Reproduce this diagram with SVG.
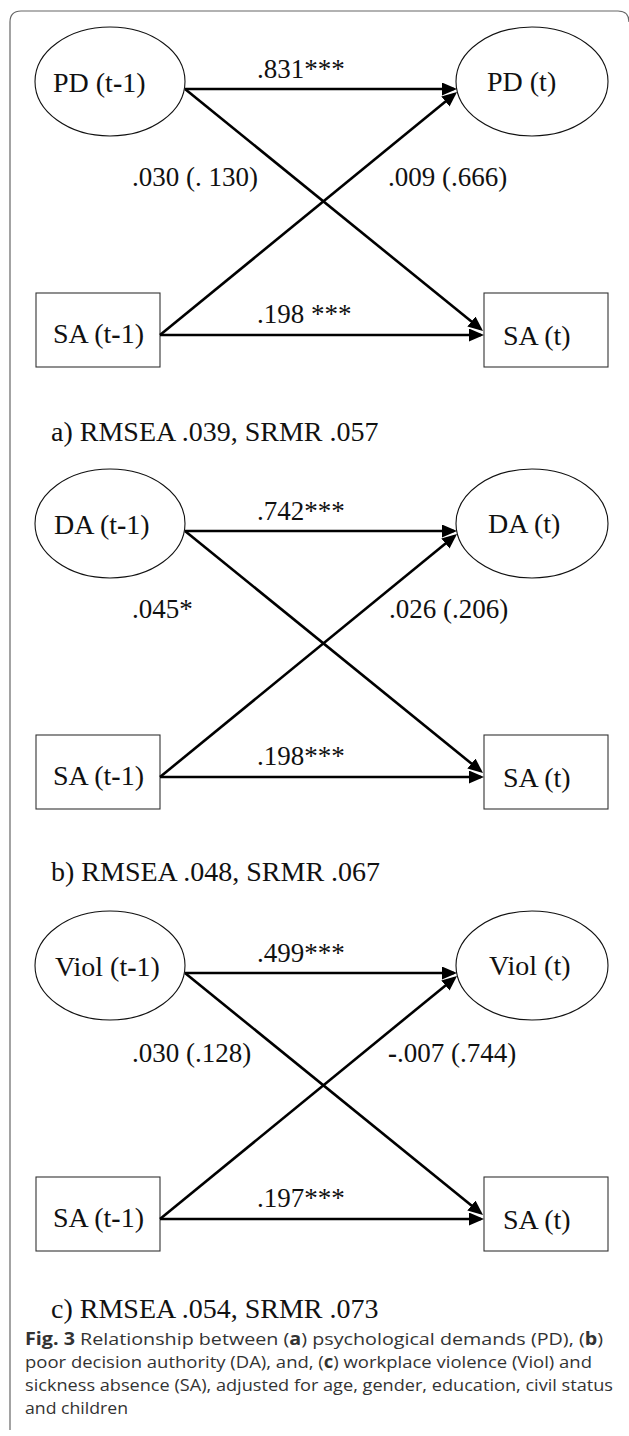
<svg xmlns="http://www.w3.org/2000/svg" width="629" height="1436" viewBox="0 0 629 1436">
  <style>
    .node { fill: #fff; stroke: #111; stroke-width: 1.1; }
    .box { fill: #fff; stroke: #333; stroke-width: 1.1; }
    .lbl { font-family: "Liberation Serif", "Times New Roman", serif; font-size: 28px; fill: #111; }
    .elbl { font-family: "Liberation Serif", "Times New Roman", serif; font-size: 27px; fill: #111; }
    .fit { font-family: "Liberation Serif", "Times New Roman", serif; font-size: 28px; fill: #111; }
    .cap { font-family: "Open Sans", "Liberation Sans", sans-serif; font-size: 17px; fill: #333; }
    .edge { fill: none; stroke: #000; stroke-width: 2.6; marker-end: url(#head); }
    .frame { fill: none; stroke: #666; stroke-width: 1.2; }
  </style>
  <defs>
    <marker id="head" markerUnits="userSpaceOnUse" markerWidth="16" markerHeight="14" refX="12" refY="6.5" orient="auto">
      <path d="M0,0 L15,6.5 L0,13 Z" fill="#000"/>
    </marker>
  </defs>

  <path class="frame" d="M10,1430 V22 Q10,11 21,11 H618 Q629,11 629,22"/>

  <!-- Panel a: psychological demands -->
  <g id="panel-a">
    <g id="a-pd-prev"><ellipse class="node" cx="110" cy="81.5" rx="75" ry="54.5"/><text class="lbl" x="53" y="92">PD (t<tspan font-weight="bold">-</tspan>1)</text></g>
    <g id="a-pd-now"><ellipse class="node" cx="532" cy="81.5" rx="76" ry="54.5"/><text class="lbl" x="487" y="91">PD (t)</text></g>
    <g id="a-sa-prev"><rect class="box" x="36" y="293" width="124" height="74"/><text class="lbl" x="53" y="343">SA (t<tspan font-weight="bold">-</tspan>1)</text></g>
    <g id="a-sa-now"><rect class="box" x="484" y="293" width="124" height="74"/><text class="lbl" x="503" y="345">SA (t)</text></g>
    <g id="a-connectors">
      <path class="edge" d="M185,89 H454"/>
      <path class="edge" d="M185,89 L480.7,329.1"/>
      <path class="edge" d="M160,335 L454.7,93.9"/>
      <path class="edge" d="M160,335 H481"/>
    </g>
    <text class="elbl" x="257" y="78">.831***</text>
    <text class="elbl" x="132" y="186">.030 (. 130)</text>
    <text class="elbl" x="388" y="186">.009 (.666)</text>
    <text class="elbl" x="257" y="323">.198 ***</text>
    <text class="fit" x="51" y="441">a) RMSEA .039, SRMR .057</text>
  </g>

  <!-- Panel b: poor decision authority -->
  <g id="panel-b">
    <g id="b-da-prev"><ellipse class="node" cx="110" cy="523.5" rx="75" ry="54.5"/><text class="lbl" x="54" y="534">DA (t<tspan font-weight="bold">-</tspan>1)</text></g>
    <g id="b-da-now"><ellipse class="node" cx="532" cy="523.5" rx="76" ry="54.5"/><text class="lbl" x="488" y="533">DA (t)</text></g>
    <g id="b-sa-prev"><rect class="box" x="36" y="735" width="124" height="74"/><text class="lbl" x="53" y="785">SA (t<tspan font-weight="bold">-</tspan>1)</text></g>
    <g id="b-sa-now"><rect class="box" x="484" y="735" width="124" height="74"/><text class="lbl" x="503" y="787">SA (t)</text></g>
    <g id="b-connectors">
      <path class="edge" d="M185,531 H454"/>
      <path class="edge" d="M185,531 L480.7,771.1"/>
      <path class="edge" d="M160,777 L454.7,535.9"/>
      <path class="edge" d="M160,777 H481"/>
    </g>
    <text class="elbl" x="257" y="520">.742***</text>
    <text class="elbl" x="132" y="618">.045*</text>
    <text class="elbl" x="389" y="618">.026 (.206)</text>
    <text class="elbl" x="257" y="765">.198***</text>
    <text class="fit" x="51" y="881">b) RMSEA .048, SRMR .067</text>
  </g>

  <!-- Panel c: workplace violence -->
  <g id="panel-c">
    <g id="c-viol-prev"><ellipse class="node" cx="110" cy="965.5" rx="75" ry="54.5"/><text class="lbl" x="55" y="976">Viol (t<tspan font-weight="bold">-</tspan>1)</text></g>
    <g id="c-viol-now"><ellipse class="node" cx="532" cy="965.5" rx="76" ry="54.5"/><text class="lbl" x="489" y="975">Viol (t)</text></g>
    <g id="c-sa-prev"><rect class="box" x="36" y="1177" width="124" height="74"/><text class="lbl" x="53" y="1227">SA (t<tspan font-weight="bold">-</tspan>1)</text></g>
    <g id="c-sa-now"><rect class="box" x="484" y="1177" width="124" height="74"/><text class="lbl" x="503" y="1229">SA (t)</text></g>
    <g id="c-connectors">
      <path class="edge" d="M185,973 H454"/>
      <path class="edge" d="M185,973 L480.7,1213.1"/>
      <path class="edge" d="M160,1219 L454.7,977.9"/>
      <path class="edge" d="M160,1219 H481"/>
    </g>
    <text class="elbl" x="257" y="962">.499***</text>
    <text class="elbl" x="132" y="1062">.030 (.128)</text>
    <text class="elbl" x="388" y="1062"><tspan font-weight="bold">-</tspan>.007 (.744)</text>
    <text class="elbl" x="257" y="1207">.197***</text>
    <text class="fit" x="51" y="1318">c) RMSEA .054, SRMR .073</text>
  </g>

  <!-- Figure caption -->
  <g id="caption">
    <text class="cap" x="25" y="1345" textLength="578" lengthAdjust="spacingAndGlyphs"><tspan font-weight="bold">Fig. 3</tspan>  Relationship between (<tspan font-weight="bold">a</tspan>) psychological demands (PD), (<tspan font-weight="bold">b</tspan>)</text>
    <text class="cap" x="25" y="1368" textLength="567" lengthAdjust="spacingAndGlyphs">poor decision authority (DA), and, (<tspan font-weight="bold">c</tspan>) workplace violence (Viol) and</text>
    <text class="cap" x="25" y="1391" textLength="588" lengthAdjust="spacingAndGlyphs">sickness absence (SA), adjusted for age, gender, education, civil status</text>
    <text class="cap" x="25" y="1414" textLength="103" lengthAdjust="spacingAndGlyphs">and children</text>
  </g>
</svg>
